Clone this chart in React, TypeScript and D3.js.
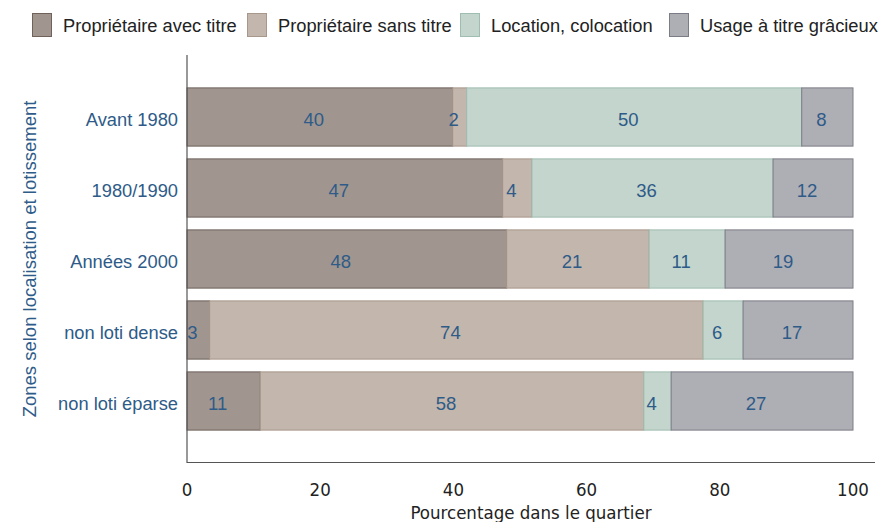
import React from "react";
import * as d3 from "d3";

const categories = ["Avant 1980", "1980/1990", "Années 2000", "non loti dense", "non loti éparse"];
const seriesNames = ["Propriétaire avec titre", "Propriétaire sans titre", "Location, colocation", "Usage à titre grâcieux"];
const avecTitre = [39.9, 47.4, 48.0, 3.4, 11.0];
const sansTitre = [2.1, 4.4, 21.4, 74.1, 57.6];
const location = [50.3, 36.2, 11.4, 6.0, 4.1];
const gracieux = [7.7, 12.0, 19.2, 16.5, 27.3];
const xTicks = [0, 20, 40, 60, 80, 100];

const fills = ["#a1968f", "#c3b6ac", "#c3d5cc", "#aeaeb5"];
const strokes = ["#6e625b", "#a8978b", "#9fbdb0", "#7c7c86"];
const textBlue = "#2e5b88";
const narrow = "Liberation Sans Narrow, DejaVu Sans Condensed, sans-serif";

export default function App() {
  const W = 881, H = 522;
  const series = [avecTitre, sansTitre, location, gracieux];
  const x = d3.scaleLinear().domain([0, 100]).range([187, 853]);
  const y = d3.scaleBand<string>().domain(categories).range([81.5, 436.5]).paddingInner(0.18).paddingOuter(0.09);
  const rows = categories.map((c, i) => {
    let acc = 0;
    return series.map((s, k) => {
      const v = s[i];
      const seg = { k, x0: acc, x1: acc + v, v };
      acc += v;
      return seg;
    });
  });
  const legendX = [32, 247, 460, 669];
  return (
    <svg width={W} height={H} style={{ position: "absolute", left: 0, top: 0, fontFamily: "Liberation Sans, Arial, sans-serif" }}>
      <rect width={W} height={H} fill="#fff" />
      {seriesNames.map((n, k) => (
        <g key={n}>
          <rect x={legendX[k] + 0.5} y={13.5} width={19} height={23} fill={fills[k]} stroke={strokes[k]} strokeWidth={1} />
          <text x={legendX[k] + 31} y={32} fontSize={18.3} fill="#222">{n}</text>
        </g>
      ))}
      {rows.map((segs, i) => (
        <g key={categories[i]}>
          {segs.map((s) => (
            <rect key={s.k} x={x(s.x0)} y={y(categories[i])!} width={x(s.x1) - x(s.x0)} height={y.bandwidth()}
              fill={fills[s.k]} stroke={strokes[s.k]} strokeWidth={1} />
          ))}
          {segs.map((s) => (
            <text key={"t" + s.k} x={(x(s.x0) + x(s.x1)) / 2 - 6} y={y(categories[i])! + y.bandwidth() / 2 + 9}
              textAnchor="middle" fontSize={18.5} fill={textBlue}>{Math.round(s.v)}</text>
          ))}
          <text x={178} y={y(categories[i])! + y.bandwidth() / 2 + 9} textAnchor="end" fontSize={18.3} fill={textBlue}>{categories[i]}</text>
        </g>
      ))}
      <line x1={187} x2={187} y1={55} y2={463} stroke="#555" strokeWidth={1.2} />
      <line x1={187} x2={875} y1={462.5} y2={462.5} stroke="#555" strokeWidth={1.2} />
      {xTicks.map((t) => (
        <text key={t} x={x(t)} y={496} textAnchor="middle" fontSize={18.5} fill="#222"
          style={{ fontFamily: narrow }}>{t}</text>
      ))}
      <text x={531} y={519} textAnchor="middle" fontSize={18.5} fill="#222"
        style={{ fontFamily: narrow }}>Pourcentage dans le quartier</text>
      <text transform="translate(36,259) rotate(-90)" textAnchor="middle" fontSize={18.5} fill={textBlue}>Zones selon localisation et lotissement</text>
    </svg>
  );
}
